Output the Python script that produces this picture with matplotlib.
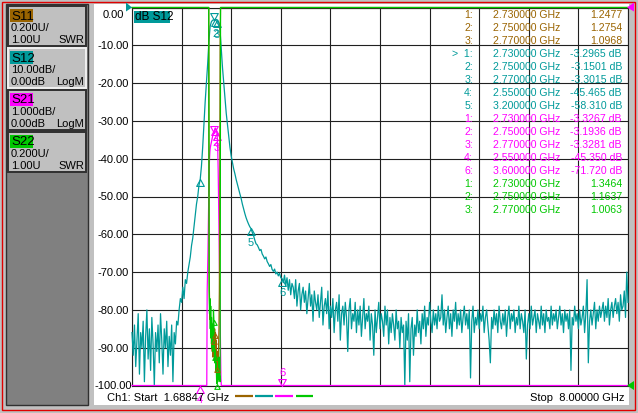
import matplotlib
matplotlib.use("Agg")
import matplotlib.pyplot as plt
import numpy as np
from matplotlib.path import Path
from matplotlib.patches import Rectangle, Polygon

plt.rcParams['font.family'] = ['Liberation Sans', 'DejaVu Sans']
plt.rcParams['font.size'] = 8

W, H = 638, 414

C11 = '#9a6400'
C12 = '#009a9a'
C21 = '#ff00ff'
C22 = '#00c800'
GRID = '#202020'

f_start = 1.68847
f_stop = 8.0

# S12 (dB), 401 point sweep
s12_db = [
    # noise floor below the passband
    -86, -92, -84, -95, -88, -81, -97, -86, -90, -83,
    -99, -87, -80, -93, -85, -96, -82, -89, -100, -86,
    -91, -84, -94, -81, -88, -97, -85, -90, -83, -95,
    -87, -92, -84, -99, -86, -89, -83,
    # lower skirt
    -84, -80, -77, -78, -74, -77, -72, -73, -70, -68,
    -66, -63, -61, -58, -55, -52, -50, -47, -45.5,
    # passband and upper skirt
    -42, -37, -31, -25, -20, -15, -9, -5, -3.8, -3.35,
    -3.3, -3.15, -3.2, -3.3, -3.9, -6, -11, -16, -20, -24,
    -28, -31, -34, -37, -39.3, -41, -42.7, -44, -45.5, -46.8,
    -48, -49.3, -50.5, -52, -53.3, -54.5, -55.6, -56.5, -57.3, -58.0,
    -58.5, -59.5, -60.3, -61.5, -62.5, -62.8, -63.5, -64.3, -64.0, -65.2,
    -65.8, -66.5, -66.0, -67.2, -67.8, -68.5, -68.0, -69.3, -69.8, -69.2,
    -70.5, -70.0, -71.0, -70.3, -71.5, -71.7, -72.8, -70.8, -73.5, -71.5,
    -74.8, -72.0, -76, -73,
    # noise floor above the passband
    -74, -77, -72, -79, -75, -73, -80, -76, -74, -78,
    -75, -81, -77, -73, -79, -76, -83, -75, -78, -80,
    -76, -82, -78, -74, -84, -79, -77, -81, -75, -85,
    -79, -82, -77, -86, -80, -78, -83, -76, -88, -81,
    -79, -84, -78, -82, -91, -80, -77, -85, -81, -83,
    -78, -86, -80, -84, -79, -87, -82, -77, -85, -81,
    -83, -79, -88, -81, -84, -92, -80, -86, -82, -78,
    -85, -81, -83, -87, -79, -84, -80, -89, -82, -86,
    -81, -84, -88, -80, -85, -83, -90, -82, -86, -84,
    -100, -83, -88, -81, -99, -85, -82, -92, -84, -87,
    -80, -86, -83, -89, -81, -85, -79, -87, -82, -84,
    -78, -83, -86, -80, -84, -81, -85, -79, -83, -82,
    -76, -84, -80, -86, -82, -79, -85, -81, -87, -80,
    -83, -78, -85, -81, -84, -80, -86, -82, -79, -84,
    -81, -85, -80, -98, -83, -79, -86, -82, -84, -80,
    -85, -81, -83, -79, -86, -82, -80, -84, -88, -94,
    -82, -85, -80, -84, -81, -86, -79, -83, -85, -81,
    -84, -80, -87, -82, -79, -85, -81, -83, -80, -86,
    -82, -84, -79, -85, -81, -83, -86, -80, -93, -84,
    -81, -85, -79, -84, -82, -80, -86, -81, -83, -85,
    -79, -84, -81, -86, -80, -83, -82, -85, -79, -84,
    -81, -83, -80, -85, -82, -79, -84, -81, -86, -80,
    -83, -81, -85, -80, -96, -82, -84, -79, -83, -81,
    -85, -80, -84, -82, -79, -86, -81, -72, -94, -83,
    -80, -84, -81, -78, -85, -80, -83, -79, -82, -80,
    -78, -83, -79, -82, -77, -84, -80, -78, -82, -79,
    -77, -81, -78, -83, -76, -80, -79, -75, -82, -70, -78,
]
freq = np.linspace(f_start, f_stop, len(s12_db))

# finer look at the passband for S11 / S21 / S22
pb_freq = [2.640, 2.645, 2.650, 2.655, 2.660, 2.665, 2.670, 2.675, 2.680, 2.685,
           2.690, 2.695, 2.700, 2.705, 2.710, 2.715, 2.720, 2.725, 2.730, 2.735,
           2.740, 2.745, 2.750, 2.755, 2.760, 2.765, 2.770, 2.775, 2.780, 2.785,
           2.790, 2.795, 2.800, 2.805, 2.810, 2.815, 2.820, 2.825]
s11_swr = [9.0, 9.0, 9.0, 9.0, 9.0, 9.0, 1.60, 1.45, 1.35, 1.40,
           1.28, 1.33, 1.22, 1.30, 1.18, 1.26, 1.15, 1.28, 1.25, 1.20,
           1.30, 1.22, 1.28, 1.17, 1.24, 1.12, 1.10, 1.18, 1.08, 1.14,
           1.20, 1.30, 1.50, 2.00, 2.80, 9.0, 9.0, 9.0]
s22_swr = [9.0, 9.0, 9.0, 9.0, 9.0, 9.0, 1.50, 1.38, 1.46, 1.30,
           1.42, 1.25, 1.36, 1.20, 1.32, 1.18, 1.28, 1.40, 1.35, 1.22,
           1.12, 1.19, 1.16, 1.08, 1.12, 1.03, 1.01, 1.06, 1.02, 1.09,
           1.04, 1.15, 1.03, 1.05, 1.02, 9.0, 9.0, 9.0]
s21_pb_db = [-10.5, -7.5, -7.0, -6.5, -5.8, -5.0, -4.3, -4.0, -3.8, -3.7,
             -3.65, -3.6, -3.55, -3.5, -3.45, -3.4, -3.37, -3.35, -3.33, -3.28,
             -3.23, -3.2, -3.19, -3.21, -3.25, -3.29, -3.33, -3.5, -3.8, -4.3,
             -5.0, -5.8, -6.6, -7.4, -8.2, -9.0, -9.8, -10.5]
swr_off = 9.0  # off screen SWR outside the band

# marker table
mk_trace = ['S11'] * 3 + ['S12'] * 5 + ['S21'] * 5 + ['S22'] * 3
mk_num = [1, 2, 3, 1, 2, 3, 4, 5, 1, 2, 3, 4, 6, 1, 2, 3]
mk_freq = [2.73, 2.75, 2.77, 2.73, 2.75, 2.77, 2.55, 3.20,
           2.73, 2.75, 2.77, 2.55, 3.60, 2.73, 2.75, 2.77]
mk_val = [1.2477, 1.2754, 1.0968,
          -3.2965, -3.1501, -3.3015, -45.465, -58.310,
          -3.3267, -3.1936, -3.3281, -45.350, -71.720,
          1.3464, 1.1637, 1.0063]
trace_col = {'S11': C11, 'S12': C12, 'S21': C21, 'S22': C22}

panel_names = ['S11', 'S12', 'S21', 'S22']
panel_scale = ['0.200U/', '10.00dB/', '1.000dB/', '0.200U/']
panel_ref = ['1.00U', '0.00dB', '0.00dB', '1.00U']
panel_fmt = ['SWR', 'LogM', 'LogM', 'SWR']

y_ticks = list(range(0, -101, -10))


def px_axes(x0, y0, x1, y1, **kw):
    return fig.add_axes([x0 / W, 1 - y1 / H, (x1 - x0) / W, (y1 - y0) / H], **kw)


tri_up = Path([(0, 0), (-0.55, -1), (0.55, -1), (0, 0)],
              [Path.MOVETO, Path.LINETO, Path.LINETO, Path.CLOSEPOLY])
tri_dn = Path([(0, 0), (-0.55, 1), (0.55, 1), (0, 0)],
              [Path.MOVETO, Path.LINETO, Path.LINETO, Path.CLOSEPOLY])


def marker(a, f, v, col, num=None, up=True, lab_dy=-10, ms=10):
    a.plot([f], [v], ls='none', marker=tri_up if up else tri_dn, ms=ms,
           mfc='none', mec=col, mew=0.8, clip_on=False, zorder=6)
    if num is not None:
        a.annotate(str(num), (f, v), xytext=(0, lab_dy), textcoords='offset points',
                   ha='center', va='center', color=col, fontsize=8,
                   annotation_clip=False, zorder=6)


fig = plt.figure(figsize=(W / 100, H / 100), dpi=100, facecolor='#c0c0c0')

# window chrome
ax0 = fig.add_axes([0, 0, 1, 1])
ax0.set_xlim(0, W)
ax0.set_ylim(H, 0)
ax0.axis('off')
ax0.add_patch(Rectangle((0, 0), W, H, fc='#c0c0c0', ec='none'))
ax0.add_patch(Rectangle((2, 2.5), 633, 409, fc='none', ec='#e00000', lw=1.0))
ax0.add_patch(Rectangle((6, 5), 82, 401, fc='#808080', ec='#303030', lw=1.0))
ax0.add_patch(Rectangle((94, 5), 535, 401, fc='white', ec='none'))

for k in range(4):
    top = 7 + 42 * k
    ax0.add_patch(Rectangle((8, top), 78, 40, fc='#c0c0c0',
                            ec='#f0f0f0' if k == 1 else '#303030', lw=1.4))
    ax0.add_patch(Rectangle((10, top + 2.5), 23, 13, fc=trace_col[panel_names[k]], ec='none'))
    ax0.text(11, top + 9.5, panel_names[k], ha='left', va='center', fontsize=9.5)
    ax0.text(11, top + 21, panel_scale[k], ha='left', va='center')
    ax0.text(11, top + 33, panel_ref[k], ha='left', va='center')
    ax0.text(84, top + 33, panel_fmt[k], ha='right', va='center')

# main grid, S12 on 10 dB/div
ax = px_axes(132, 8.5, 628, 386.5)
ax.set_facecolor('white')
ax.set_xlim(f_start, f_stop)
ax.set_ylim(-100, 0)
ax.set_xticks(np.linspace(f_start, f_stop, 11))
ax.set_yticks(y_ticks)
ax.tick_params(length=0, labelbottom=False, labelleft=False)
ax.grid(True, color=GRID, lw=0.8)
ax.set_axisbelow(True)
for s in ax.spines.values():
    s.set_color(GRID)
    s.set_linewidth(0.8)
for v in y_ticks:
    ax.annotate(f'{v:.2f}', xy=(-0.0383, v), xycoords=ax.get_yaxis_transform(),
                xytext=(0, -5 if v == 0 else 0), textcoords='offset points',
                ha='center', va='center', annotation_clip=False)

ax.plot(freq, np.clip(s12_db, -100, 0), color=C12, lw=0.9, clip_on=False, zorder=3)

# S21 on 1 dB/div
ax21 = px_axes(132, 8.5, 628, 386.5)
ax21.patch.set_alpha(0)
ax21.axis('off')
ax21.set_xlim(f_start, f_stop)
ax21.set_ylim(-10, 0)
s12_arr = np.array(s12_db)
outside = (freq < pb_freq[0]) | (freq > pb_freq[-1])
f21 = np.concatenate([freq[outside], pb_freq])
v21 = np.concatenate([s12_arr[outside], s21_pb_db])
order = np.argsort(f21)
ax21.plot(f21[order], np.clip(v21[order], -10, 0), color=C21, lw=0.9, clip_on=False, zorder=3)

# S11 / S22 SWR, 0.2 U/div, 1.00 at the bottom
axs = px_axes(132, 8.5, 628, 386.5)
axs.patch.set_alpha(0)
axs.axis('off')
axs.set_xlim(f_start, f_stop)
axs.set_ylim(1.0, 3.0)
fs = [f_start] + pb_freq + [f_stop]
axs.plot(fs, np.clip([swr_off] + s11_swr + [swr_off], 1, 3), color=C11, lw=0.9,
         clip_on=False, zorder=2)
axs.plot(fs, np.clip([swr_off] + s22_swr + [swr_off], 1, 3), color=C22, lw=0.9,
         clip_on=False, zorder=4)

# markers on the traces
for tr, n, f, v in zip(mk_trace, mk_num, mk_freq, mk_val):
    col = trace_col[tr]
    if tr == 'S12':
        marker(ax, f, v, col, None if n in (1, 4) else n, up=(n != 1))
    elif tr == 'S21':
        if n == 4:
            marker(ax21, f, -10, col, n, up=True)
        elif n == 6:
            marker(ax21, f, -10, col, n, up=False, lab_dy=10)
        else:
            marker(ax21, f, v, col, None if n == 1 else n, up=(n != 1))
    else:
        marker(axs, f, v, col, None, up=True, ms=7)
marker(ax, 3.6, -71.72, C12, 6)

# overlay: texts and reference arrows
ov = fig.add_axes([0, 0, 1, 1])
ov.patch.set_alpha(0)
ov.set_xlim(0, W)
ov.set_ylim(H, 0)
ov.axis('off')
ov.add_patch(Rectangle((133.5, 11.5), 36, 12, fc=C12, ec='none'))
ov.text(135, 17.5, 'dB S12', ha='left', va='center', fontsize=8.5)
ov.add_patch(Polygon([(126, 3.5), (126, 12.5), (132, 8.5)], fc=C12, ec='none'))
ov.add_patch(Polygon([(634, 3.5), (634, 12.5), (627, 8.5)], fc=C21, ec='none'))
ov.add_patch(Polygon([(634, 382), (634, 391), (627, 386.5)], fc=C22, ec='none'))

for k, (tr, n, f, v) in enumerate(zip(mk_trace, mk_num, mk_freq, mk_val)):
    y = 15 + 13 * k
    col = trace_col[tr]
    lab = f'{n}:'
    if tr == 'S12' and n == 1:
        lab = '>  ' + lab
    unit = ' dB' if tr in ('S12', 'S21') else ''
    ov.text(473, y, lab, ha='right', va='center', color=col, fontsize=7.6)
    ov.text(493, y, f'{f:.6f} GHz', ha='left', va='center', color=col, fontsize=7.6)
    ov.text(622, y, f'{v:#.5g}{unit}', ha='right', va='center', color=col, fontsize=7.6)

ov.text(107, 398.5, f'Ch1: Start  {f_start:.5f} GHz', ha='left', va='center')
ov.text(625, 398.5, f'Stop  {f_stop:.5f} GHz', ha='right', va='center')
for k, name in enumerate(panel_names):
    ov.plot([235 + 20.2 * k, 252.5 + 20.2 * k], [397, 397], color=trace_col[name],
            lw=1.6, solid_capstyle='butt')

fig.savefig('out.png', dpi=100, facecolor=fig.get_facecolor())
